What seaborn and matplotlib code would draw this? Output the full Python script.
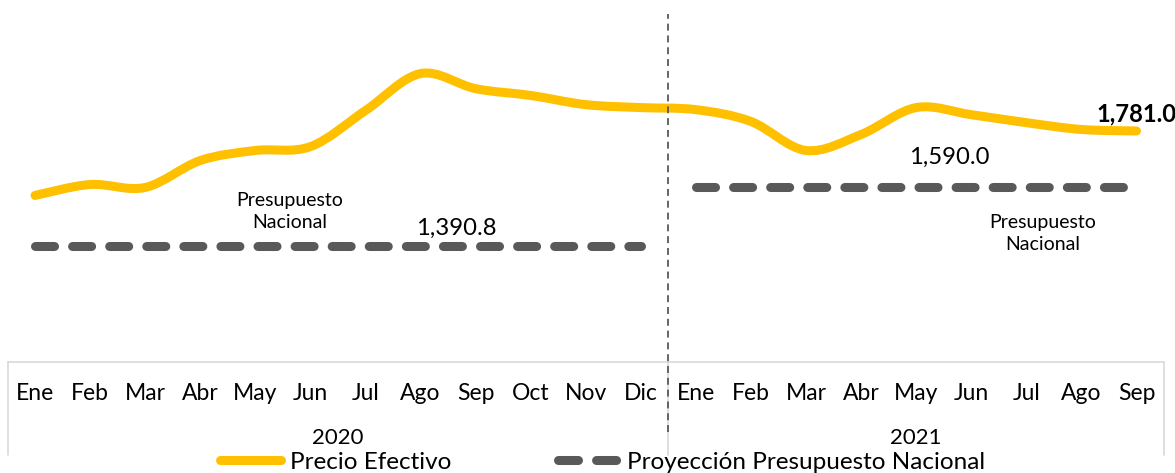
import numpy as np
import pandas as pd
import seaborn as sns
import matplotlib.pyplot as plt
from matplotlib.path import Path
from matplotlib.patches import PathPatch
from matplotlib.lines import Line2D
import matplotlib.transforms as mtransforms

# data
meses = ['Ene', 'Feb', 'Mar', 'Abr', 'May', 'Jun', 'Jul', 'Ago', 'Sep', 'Oct', 'Nov', 'Dic',
         'Ene', 'Feb', 'Mar', 'Abr', 'May', 'Jun', 'Jul', 'Ago', 'Sep']
anios = ['2020'] * 12 + ['2021'] * 9
precio_efectivo = [1563, 1600, 1590, 1681, 1715, 1728, 1850, 1975, 1924, 1901, 1870, 1860,
                   1853, 1813, 1715, 1769, 1860, 1836, 1809, 1786, 1781.0]
presupuesto_2020 = 1390.8
presupuesto_2021 = 1590.0

AMARILLO = '#FFC000'
GRIS = '#595959'


def smooth_path(xs, ys):
    """Excel-like smoothed line as cubic bezier segments through the points."""
    pts = np.column_stack([xs, ys]).astype(float)
    ext = np.vstack([pts[0], pts, pts[-1]])
    verts = [pts[0]]
    codes = [Path.MOVETO]
    for i in range(len(pts) - 1):
        p0, p1, p2, p3 = ext[i], ext[i + 1], ext[i + 2], ext[i + 3]
        c1 = p1 + (p2 - p0) / 6.0
        c2 = p2 - (p3 - p1) / 6.0
        verts += [c1, c2, p2]
        codes += [Path.CURVE4] * 3
    return Path(verts, codes)


def main():
    sns.set_style('white')
    plt.rcParams['font.family'] = ['Lato', 'DejaVu Sans']
    plt.rcParams['text.color'] = 'black'
    plt.rcParams['lines.scale_dashes'] = False

    df = pd.DataFrame({'mes': meses, 'anio': anios, 'precio': precio_efectivo})
    df['pos'] = np.arange(len(df))
    df['presupuesto'] = np.where(df['anio'] == '2020', presupuesto_2020, presupuesto_2021)

    fig = plt.figure(figsize=(11.75, 4.73), dpi=100)
    ax = fig.add_axes([7.5 / 1175, (473 - 362) / 473, (1164 - 7.5) / 1175, 355 / 473])

    # budget lines per year
    for anio, grp in df.groupby('anio'):
        sns.lineplot(data=grp, x='pos', y='presupuesto', ax=ax, color=GRIS,
                     linewidth=6.5, dashes=False, estimator=None)
    for ln in ax.lines:
        ln.set_dashes((13.7, 13.0))
        ln.set_dash_capstyle('round')

    # smoothed effective price
    patch = PathPatch(smooth_path(df['pos'], df['precio']), facecolor='none',
                      edgecolor=AMARILLO, linewidth=6.5, capstyle='round', joinstyle='round',
                      zorder=3)
    ax.add_patch(patch)

    ax.set_xlim(-0.5, len(df) - 0.5)
    ax.set_ylim(1000, 2200)
    ax.set_xlabel('')
    ax.set_ylabel('')
    ax.set_xticks([])
    ax.set_yticks([])
    for s in ax.spines.values():
        s.set_visible(False)

    # labels
    ax.text(7.65, 1453, '{:,.1f}'.format(presupuesto_2020), fontsize=17.2,
            ha='center', va='center')
    ax.text(16.6, 1693, '{:,.1f}'.format(presupuesto_2021), fontsize=17.2,
            ha='center', va='center')
    ax.text(20.0, 1840, '{:,.1f}'.format(precio_efectivo[-1]), fontsize=17.2,
            fontweight='bold', ha='center', va='center')
    ax.text(4.63, 1509, 'Presupuesto\nNacional', fontsize=14, ha='center', va='center',
            linespacing=1.3)
    ax.text(18.3, 1434, 'Presupuesto\nNacional', fontsize=14, ha='center', va='center',
            linespacing=1.4)

    # category axis box (two levels)
    trans = mtransforms.blended_transform_factory(ax.transData, ax.transAxes)
    box = '#D9D9D9'
    lo = -(455 - 362) / 355
    ax.plot([-0.5, len(df) - 0.5], [0, 0], transform=trans, color=box, lw=1.2, clip_on=False)
    for xv in [-0.5, 11.5, len(df) - 0.5]:
        ax.plot([xv, xv], [0, lo], transform=trans, color=box, lw=1.2, clip_on=False)
    for p, m in zip(df['pos'], df['mes']):
        ax.text(p, -(393 - 362) / 355, m, transform=trans, ha='center', va='center',
                fontsize=16.5)
    for anio, grp in df.groupby('anio'):
        ax.text(grp['pos'].mean(), -(438 - 362) / 355, anio, transform=trans,
                ha='center', va='center', fontsize=16)

    # year separator
    ax.plot([11.5, 11.5], [-(432 - 362) / 355, (362 - 14) / 355], transform=trans,
            color=GRIS, lw=1.3, dashes=(5, 3.5), clip_on=False, zorder=4)

    handles = [Line2D([], [], color=AMARILLO, lw=6.5, solid_capstyle='round'),
               Line2D([], [], color=GRIS, lw=6.5, dashes=(14.4, 13), dash_capstyle='round')]
    fig.legend(handles, ['Precio Efectivo', 'Proyección Presupuesto Nacional'],
               loc='center', bbox_to_anchor=(0.513, 11 / 473), ncol=2, frameon=False,
               fontsize=17.5, handlelength=2.5, columnspacing=4.4, handletextpad=0.35,
               borderpad=0, labelcolor='black')

    fig.savefig('out.png', dpi=100)


if __name__ == "__main__":
    main()
